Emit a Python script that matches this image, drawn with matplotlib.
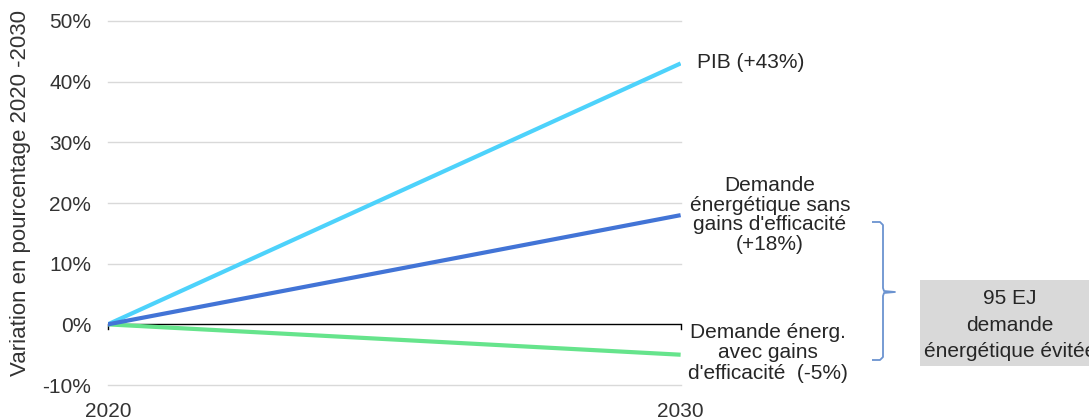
import numpy as np
import matplotlib.pyplot as plt
from matplotlib.path import Path
from matplotlib.patches import PathPatch, Rectangle

plt.rcParams['font.family'] = ['Liberation Sans', 'DejaVu Sans']

years = [2020, 2030]
pib = [0, 43]
sans_gains = [0, 18]
avec_gains = [0, -5]
yticks = [-10, 0, 10, 20, 30, 40, 50]

fs = 15
fig = plt.figure(figsize=(10.89, 4.19), dpi=100)
ax = fig.add_axes([0.099, 0.081, 0.526, 0.869])

for v in yticks:
    if v != 0:
        ax.axhline(v, color='#d9d9d9', lw=1, zorder=0, clip_on=False)
ax.axhline(0, color='black', lw=1, zorder=1)
# small category ticks on the zero line
for yr in years:
    ax.plot([yr, yr], [0, -0.8], color='black', lw=1, zorder=1, clip_on=False)

ax.plot(years, pib, color='#4dd2fb', lw=3, solid_capstyle='butt', zorder=3)
ax.plot(years, sans_gains, color='#4274d6', lw=3, solid_capstyle='butt', zorder=3)
ax.plot(years, avec_gains, color='#66e48c', lw=3, solid_capstyle='butt', zorder=2)

ax.set_xlim(2020, 2030)
ax.set_ylim(-10, 50)
ax.set_yticks(yticks)
ax.set_yticklabels([f'{v}%' for v in yticks], fontsize=fs, color='#333333')
ax.set_xticks(years)
ax.set_xticklabels([str(y) for y in years], fontsize=fs, color='#333333')
ax.tick_params(length=0)
ax.tick_params(axis='y', pad=12)
ax.tick_params(axis='x', pad=12)
for s in ax.spines.values():
    s.set_visible(False)
ax.set_ylabel('Variation en pourcentage 2020 -2030', fontsize=16, color='#333333')
ax.yaxis.set_label_coords(-0.134, 0.527)

tc = '#262626'
fig.text(697 / 1089, 1 - 62 / 419, 'PIB (+43%)', fontsize=fs, color=tc, va='center', ha='left')
fig.text(770 / 1089, 1 - 215 / 419, "Demande\nénergétique sans\ngains d'efficacité\n(+18%)",
         fontsize=fs, color=tc, va='center', ha='center', linespacing=1.05)
fig.text(768 / 1089, 1 - 353 / 419, "Demande énerg.\navec gains\nd'efficacité  (-5%)",
         fontsize=fs, color=tc, va='center', ha='center', linespacing=1.1)

# curly brace between the two demand scenarios
W, H = 1089, 419
pts = [(872, 222), (880, 222), (883, 225), (883, 288), (884, 291), (895, 292),
       (884, 293), (883, 296), (883, 357), (880, 360), (872, 360)]
verts = [(x / W, 1 - y / H) for x, y in pts]
brace = PathPatch(Path(verts), transform=fig.transFigure, fill=False,
                  edgecolor='#6b93d0', lw=1.3, joinstyle='round')
fig.add_artist(brace)

box = Rectangle((920 / W, 1 - 366 / H), (1089 - 920) / W, 86 / H,
                transform=fig.transFigure, facecolor='#d9d9d9', edgecolor='none')
fig.add_artist(box)
fig.text(1010 / W, 1 - 325 / H, '95 EJ\ndemande\nénergétique évitée',
         fontsize=fs, color=tc, va='center', ha='center', linespacing=1.5)

fig.savefig('out.png', dpi=100)
